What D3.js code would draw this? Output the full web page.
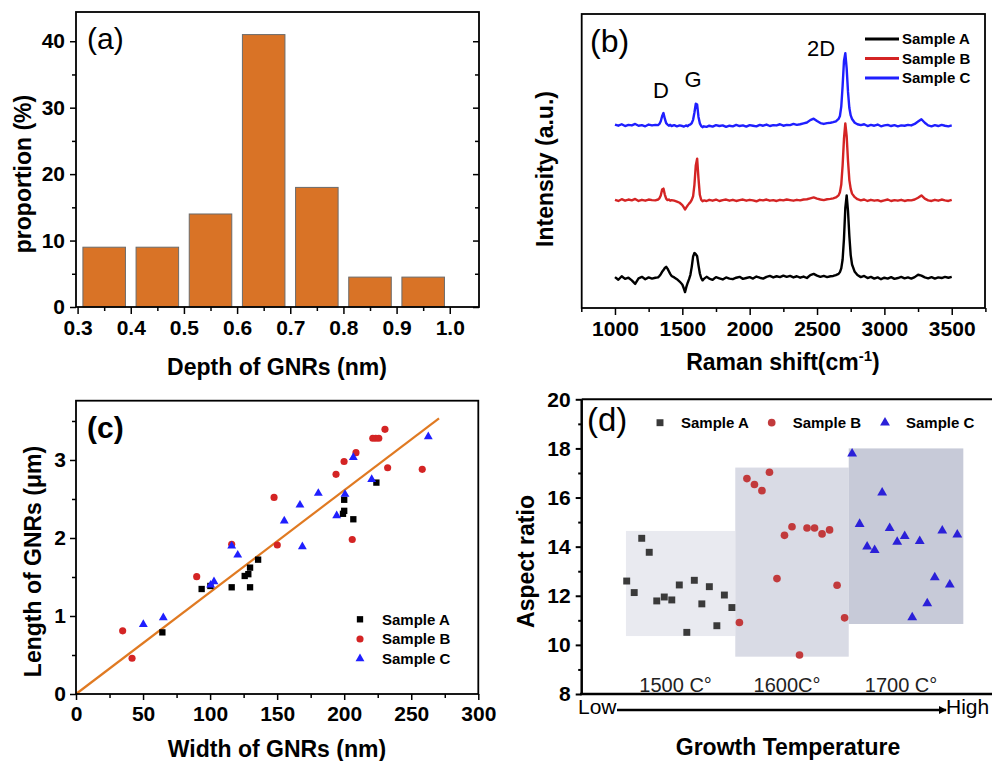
<!DOCTYPE html>
<html>
<head>
<meta charset="utf-8">
<title>GNRs characterisation</title>
<script src="https://d3js.org/d3.v7.min.js"></script>
<style>
  body { margin: 0; background: #fff; }
  text { font-family: Arial, "Liberation Sans", sans-serif; }
</style>
</head>
<body>
<script>
// ---- (a) depth histogram ----
const depthCenters = [0.35, 0.45, 0.55, 0.65, 0.75, 0.85, 0.95];
const depthProportion = [9, 9, 14, 41, 18, 4.5, 4.5];
const depthBinWidth = 0.08;
const depthTicks = [0.3, 0.4, 0.5, 0.6, 0.7, 0.8, 0.9, 1.0];
const proportionTicks = [0, 10, 20, 30, 40];

// ---- (b) Raman spectra (offset) ----
const ramanShift = [1000,1025,1050,1075,1100,1125,1150,1175,1200,1225,1250,1275,1300,
  1320,1330,1340,1350,1360,1370,1380,1390,1400,1410,1420,
  1440,1460,1480,1500,
  1510,1520,1530,1540,1550,1560,1570,1580,1590,1600,1610,1620,1630,1640,1650,1660,
  1680,1700,1725,1750,1775,1800,1825,1850,1875,1900,1925,1950,1975,2000,2025,2050,2075,2100,2125,2150,2175,2200,2225,2250,2275,2300,2325,2350,2375,2400,2425,2450,2475,2500,2525,2550,2575,2600,
  2620,2640,2660,2670,2680,2690,2700,2710,2720,2730,2740,2750,2760,2780,2800,
  2825,2850,2875,2900,2925,2950,2975,3000,3025,3050,3075,3100,3125,3150,3175,3200,3225,3250,3275,3300,3325,3350,3375,3400,3425,3450,3475,3500];
const intensityA = [10.5,9.6,10.8,9.9,10.3,9.4,8.2,10.1,10.6,9.8,10.4,10.0,10.3,
  10.4,10.9,11.5,12.3,12.9,13.6,14.0,13.4,12.5,11.6,10.9,
  10.4,9.8,9.0,8.0,
  6.8,5.4,7.2,8.6,9.8,11.3,14.0,17.5,18.7,18.3,17.6,14.5,11.8,10.2,9.4,9.9,
  10.6,10.0,9.6,10.5,10.1,9.7,10.4,10.0,9.8,10.3,10.6,9.9,10.2,10.5,10.0,10.7,10.3,10.0,10.6,10.9,10.4,10.8,10.5,11.0,10.6,10.9,10.4,10.8,10.3,10.7,10.2,11.2,11.6,11.0,10.6,10.9,10.5,10.8,
  10.9,11.2,11.6,12.2,13.5,16.5,23.5,34.0,38.3,33.0,24.5,18.0,14.8,12.3,11.2,
  10.5,10.9,10.2,10.6,10.0,10.4,9.8,10.3,10.0,10.5,9.9,10.2,10.6,10.1,10.4,10.0,10.5,11.3,11.0,10.4,10.1,10.5,10.0,10.4,10.2,10.6,10.3,10.6];
const intensityB = [36.8,36.4,37.0,36.5,36.9,36.6,37.1,36.4,36.8,36.5,36.9,36.7,36.6,
  36.9,37.3,38.3,40.3,40.6,38.6,37.2,36.7,36.9,36.5,36.7,
  36.5,36.2,35.8,35.0,
  34.3,33.5,34.2,34.9,35.5,36.0,36.8,38.0,42.0,48.5,50.8,44.0,38.5,36.8,36.3,36.6,
  36.4,36.8,36.5,36.9,36.4,36.7,36.9,36.5,36.8,36.4,36.7,36.9,36.5,36.8,36.6,36.3,36.8,36.6,36.9,36.5,36.7,36.4,36.8,36.6,36.9,36.7,36.5,36.8,36.6,36.9,37.0,37.3,37.6,37.2,36.9,36.7,37.0,37.1,
  37.3,37.6,38.3,39.4,42.0,48.5,57.5,62.8,58.5,50.0,43.5,40.5,38.9,37.7,37.0,
  36.6,36.9,36.4,36.8,36.5,36.7,36.3,36.6,36.9,36.4,36.7,36.5,36.8,36.4,36.7,36.6,36.9,37.5,38.3,37.2,36.6,36.4,36.8,36.5,36.9,36.6,36.4,36.8];
const intensityC = [62.4,62.0,62.5,61.9,62.3,62.1,62.6,62.0,62.2,61.8,62.4,62.1,62.3,
  62.2,62.6,63.5,65.2,66.3,64.4,62.9,62.4,62.0,62.3,61.9,
  62.2,61.8,62.1,61.9,
  61.7,61.9,62.1,61.8,62.3,62.4,62.9,64.0,66.5,69.5,69.2,65.0,62.8,61.9,61.5,61.8,
  61.6,62.0,61.7,62.2,61.9,62.1,61.6,62.0,61.8,62.3,61.9,62.1,61.7,62.2,62.0,61.8,62.3,62.0,62.4,61.9,62.2,62.1,62.5,62.0,62.3,62.2,62.6,62.3,62.5,62.8,63.1,63.9,64.4,63.6,62.9,62.6,62.9,63.0,
  63.2,63.5,64.3,65.3,68.5,75.5,84.0,86.7,81.5,73.5,68.0,65.5,64.3,63.0,62.5,
  62.2,62.5,61.9,62.3,62.0,62.4,61.8,62.1,62.3,61.9,62.2,61.8,62.1,62.0,62.3,62.1,62.6,63.4,64.2,63.0,62.1,61.8,62.2,61.9,62.3,62.0,61.8,62.1];
const ramanTicks = [1000, 1500, 2000, 2500, 3000, 3500];
const ramanMinor = [750, 1250, 1750, 2250, 2750, 3250, 3750];
const sampleNames = ["Sample A", "Sample B", "Sample C"];
const bandLabels = ["D", "G", "2D"];
const bandShift = [1341, 1580, 2530];
const bandHeight = [71.5, 75.1, 85.7];

// ---- (c) length vs width ----
const widthA = [64.4, 93.7, 100.2, 116.1, 125.8, 128.5, 129.8, 129.8, 135.8, 199.1, 200, 200, 206.8, 224];
const lengthA = [0.79, 1.346, 1.385, 1.368, 1.513, 1.536, 1.62, 1.368, 1.722, 2.31, 2.348, 2.49, 2.24, 2.71];
const widthB = [34.8, 41.8, 90, 116.1, 147.7, 150.1, 193.9, 199.9, 206, 208.8, 221.3, 223.5, 225.8, 230.4, 232.4, 258.2];
const lengthB = [0.81, 0.458, 1.504, 1.919, 2.52, 1.91, 2.816, 2.98, 1.98, 3.094, 3.278, 3.278, 3.278, 3.393, 2.9, 2.88];
const widthC = [50.2, 65.1, 100.4, 102.9, 116.1, 120.6, 155.3, 167, 168.8, 180.7, 194.4, 200.6, 206.8, 220.5, 262.7];
const lengthC = [0.893, 0.978, 1.397, 1.44, 1.897, 1.782, 2.218, 2.423, 1.889, 2.573, 2.286, 2.56, 3.034, 2.752, 3.299];
const fitWidth = [0, 270.7];
const fitLength = [0, 3.535];
const widthTicks = [0, 50, 100, 150, 200, 250, 300];
const widthMinor = [25, 75, 125, 175, 225, 275];
const lengthTicks = [0, 1, 2, 3];
const lengthMinor = [0.5, 1.5, 2.5, 3.5];

// ---- (d) aspect ratio vs growth temperature ----
const aspectA = [12.6, 12.13, 14.34, 13.77, 11.79, 11.95, 11.83, 12.44, 10.51, 12.63, 11.67, 12.37, 10.78, 12.03, 11.52];
const aspectB = [10.91, 16.77, 16.53, 16.28, 17.03, 12.7, 14.46, 14.81, 9.59, 14.76, 14.76, 14.52, 14.68, 12.43, 11.1];
const aspectC = [17.79, 14.92, 14.0, 13.86, 16.2, 14.75, 14.19, 14.43, 11.12, 14.22, 11.69, 12.75, 14.65, 12.45, 14.49];
const tempLabels = ["1500 C°", "1600C°", "1700 C°"];
const boxStart = [-0.1, 14.45, 29.55];
const boxEnd = [14.45, 29.55, 44.8];
const boxLow = [10.36, 9.52, 10.85];
const boxHigh = [14.64, 17.22, 18.0];
const aspectTicks = [8, 10, 12, 14, 16, 18, 20];
const aspectMinor = [9, 11, 13, 15, 17, 19];

const svg = d3.select("body").append("svg")
  .attr("width", 992).attr("height", 761)
  .style("background", "#fff");

const intFmt = d3.format("d");

function styleAxis(g, fontSize, sw) {
  g.select(".domain").remove();
  g.selectAll(".tick line").attr("stroke", "#000").attr("stroke-width", sw || 1.5);
  g.selectAll(".tick text")
    .attr("fill", "#000")
    .style("font-size", fontSize + "px")
    .style("font-weight", "bold");
  return g;
}

function title(x, y, txt, rotate) {
  const t = svg.append("text")
    .attr("text-anchor", "middle")
    .style("font-size", "23px")
    .style("font-weight", "bold")
    .text(txt);
  if (rotate) t.attr("transform", `translate(${x},${y}) rotate(-90)`);
  else t.attr("x", x).attr("y", y);
  return t;
}

const sampleColors = ["#000000", "#d42424", "#1f1fff"];

// ================= (a) =================
const xA = d3.scaleLinear().domain([0.297, 1.055]).range([76, 479]);
const yA = d3.scaleLinear().domain([0, 44.4]).range([307, 12]);

svg.append("g").selectAll("rect")
  .data(depthProportion)
  .join("rect")
  .attr("x", (d, i) => xA(depthCenters[i] - depthBinWidth / 2))
  .attr("width", (d, i) => xA(depthCenters[i] + depthBinWidth / 2) - xA(depthCenters[i] - depthBinWidth / 2))
  .attr("y", d => yA(d))
  .attr("height", d => yA(0) - yA(d))
  .attr("fill", "#d97326")
  .attr("stroke", "#6b6b6b")
  .attr("stroke-width", 1);

styleAxis(svg.append("g").attr("transform", "translate(0,307)")
  .call(d3.axisBottom(xA).tickValues(depthTicks).tickSize(7).tickPadding(6).tickFormat(d3.format(".1f"))), 21);
styleAxis(svg.append("g").attr("transform", "translate(0,307)")
  .call(d3.axisBottom(xA).tickValues(depthTicks.slice(0, -1).map(d => d + 0.05)).tickSize(4).tickFormat("")), 21);
styleAxis(svg.append("g").attr("transform", "translate(76,0)")
  .call(d3.axisLeft(yA).tickValues(proportionTicks).tickSize(6).tickPadding(5).tickFormat(intFmt)), 21);
styleAxis(svg.append("g").attr("transform", "translate(76,0)")
  .call(d3.axisLeft(yA).tickValues(proportionTicks.slice(0, -1).map(d => d + 5)).tickSize(4).tickFormat("")), 21);
styleAxis(svg.append("g").attr("transform", "translate(479,0)")
  .call(d3.axisLeft(yA).tickValues(proportionTicks).tickSize(6).tickFormat("")), 21);
styleAxis(svg.append("g").attr("transform", "translate(479,0)")
  .call(d3.axisLeft(yA).tickValues(proportionTicks.slice(0, -1).map(d => d + 5)).tickSize(4).tickFormat("")), 21);

svg.append("rect").attr("x", 76).attr("y", 12).attr("width", 403).attr("height", 295)
  .attr("fill", "none").attr("stroke", "#000").attr("stroke-width", 1.8);
svg.append("text").attr("x", 87).attr("y", 49).style("font-size", "30px").text("(a)");
title(31, 174, "proportion (%)", true);
title(277, 375, "Depth of GNRs (nm)");

// ================= (b) =================
const xB = d3.scaleLinear().domain([753, 3747]).range([581.7, 985]);
const yB = d3.scaleLinear().domain([0, 100]).range([308, 14]);

const ramanLine = d3.line()
  .defined((d, i) => ramanShift[i] !== undefined)
  .x((d, i) => xB(ramanShift[i]))
  .y(d => yB(d));

[intensityA, intensityB, intensityC].forEach((series, k) => {
  svg.append("path")
    .datum(series)
    .attr("d", ramanLine)
    .attr("fill", "none")
    .attr("stroke", sampleColors[k])
    .attr("stroke-width", 2.4)
    .attr("stroke-linejoin", "round");
});

styleAxis(svg.append("g").attr("transform", "translate(0,308)")
  .call(d3.axisBottom(xB).tickValues(ramanTicks).tickSize(7).tickPadding(6).tickFormat(intFmt)), 21);
styleAxis(svg.append("g").attr("transform", "translate(0,308)")
  .call(d3.axisBottom(xB).tickValues(ramanMinor).tickSize(4).tickFormat("")), 21);

svg.append("rect").attr("x", 581.7).attr("y", 14).attr("width", 403.3).attr("height", 294)
  .attr("fill", "none").attr("stroke", "#000").attr("stroke-width", 1.8);

bandLabels.forEach((lab, i) => {
  svg.append("text")
    .attr("x", xB(bandShift[i]))
    .attr("y", yB(bandHeight[i]))
    .attr("text-anchor", "middle")
    .style("font-size", "22px")
    .text(lab);
});

sampleNames.forEach((name, i) => {
  const y = 39 + i * 19.5;
  svg.append("line").attr("x1", 865).attr("x2", 899).attr("y1", y).attr("y2", y)
    .attr("stroke", sampleColors[i]).attr("stroke-width", 3);
  svg.append("text").attr("x", 902).attr("y", y).attr("dy", "0.35em")
    .style("font-size", "15px").style("font-weight", "bold").text(name);
});

svg.append("text").attr("x", 590).attr("y", 52).style("font-size", "32px").text("(b)");
title(553, 169, "Intensity (a.u.)", true);
const rt = title(783, 370, "Raman shift(cm");
rt.append("tspan").attr("dy", -9).style("font-size", "15px").text("-1");
rt.append("tspan").attr("dy", 9).text(")");

// ================= (c) =================
const xC = d3.scaleLinear().domain([0, 300]).range([76, 478.3]);
const yC = d3.scaleLinear().domain([0, 3.76]).range([694, 400.7]);

svg.append("line")
  .attr("x1", xC(fitWidth[0])).attr("y1", yC(fitLength[0]))
  .attr("x2", xC(fitWidth[1])).attr("y2", yC(fitLength[1]))
  .attr("stroke", "#e07a22").attr("stroke-width", 2.2);

const symC = [
  d3.symbol().type(d3.symbolSquare).size(40),
  d3.symbol().type(d3.symbolCircle).size(40),
  d3.symbol().type(d3.symbolTriangle).size(34)
];
const setsC = [[widthA, lengthA], [widthB, lengthB], [widthC, lengthC]];
setsC.forEach(([w, l], k) => {
  svg.append("g").selectAll("path")
    .data(w)
    .join("path")
    .attr("d", symC[k])
    .attr("transform", (d, i) => `translate(${xC(d)},${yC(l[i])})`)
    .attr("fill", sampleColors[k]);
});

styleAxis(svg.append("g").attr("transform", "translate(0,694)")
  .call(d3.axisBottom(xC).tickValues(widthTicks).tickSize(6).tickPadding(6).tickFormat(intFmt)), 21);
styleAxis(svg.append("g").attr("transform", "translate(0,694)")
  .call(d3.axisBottom(xC).tickValues(widthMinor).tickSize(4).tickFormat("")), 21);
styleAxis(svg.append("g").attr("transform", "translate(76,0)")
  .call(d3.axisLeft(yC).tickValues(lengthTicks).tickSize(6).tickPadding(4).tickFormat(intFmt)), 21);
styleAxis(svg.append("g").attr("transform", "translate(76,0)")
  .call(d3.axisLeft(yC).tickValues(lengthMinor).tickSize(4).tickFormat("")), 21);

svg.append("rect").attr("x", 76).attr("y", 400.7).attr("width", 402.3).attr("height", 293.3)
  .attr("fill", "none").attr("stroke", "#000").attr("stroke-width", 1.8);

sampleNames.forEach((name, i) => {
  const y = 619.3 + i * 19.7;
  svg.append("path").attr("d", symC[i]).attr("transform", `translate(360,${y})`).attr("fill", sampleColors[i]);
  svg.append("text").attr("x", 382).attr("y", y).attr("dy", "0.35em")
    .style("font-size", "15px").style("font-weight", "bold").text(name);
});

svg.append("text").attr("x", 87).attr("y", 438).style("font-size", "30px").style("font-weight", "bold").text("(c)");
title(41, 561.5, "Length of GNRs (\u03bcm)", true);
title(277, 757, "Width of GNRs (nm)");

// ================= (d) =================
const xD = d3.scaleLinear().domain([0, 44]).range([626.7, 957.3]);
const yD = d3.scaleLinear().domain([8, 20]).range([694, 399.3]);
const boxColors = ["#e9eaf0", "#d9dbe5", "#c7cad8"];

tempLabels.forEach((lab, i) => {
  svg.append("rect")
    .attr("x", xD(boxStart[i]))
    .attr("width", xD(boxEnd[i]) - xD(boxStart[i]))
    .attr("y", yD(boxHigh[i]))
    .attr("height", yD(boxLow[i]) - yD(boxHigh[i]))
    .attr("fill", boxColors[i]);
  svg.append("text")
    .attr("x", xD((boxStart[i] + boxEnd[i]) / 2) - 5)
    .attr("y", 692)
    .attr("text-anchor", "middle")
    .style("font-size", "20px")
    .attr("fill", "#222")
    .text(lab);
});

const dColors = ["#3a3a3a", "#c23a3c", "#2b20d8"];
const symD = [
  d3.symbol().type(d3.symbolSquare).size(48),
  d3.symbol().type(d3.symbolCircle).size(46),
  d3.symbol().type(d3.symbolTriangle).size(42)
];
[aspectA, aspectB, aspectC].forEach((vals, k) => {
  svg.append("g").selectAll("path")
    .data(vals)
    .join("path")
    .attr("d", symD[k])
    .attr("transform", (d, i) => `translate(${xD(k * 15 + i)},${yD(d)})`)
    .attr("fill", dColors[k]);
});

styleAxis(svg.append("g").attr("transform", "translate(581.7,0)")
  .call(d3.axisLeft(yD).tickValues(aspectTicks).tickSize(6).tickPadding(5).tickFormat(intFmt)), 21, 2);
styleAxis(svg.append("g").attr("transform", "translate(581.7,0)")
  .call(d3.axisLeft(yD).tickValues(aspectMinor).tickSize(3.5).tickFormat("")), 21, 2);

svg.append("line").attr("x1", 581.7).attr("x2", 581.7).attr("y1", 399.3).attr("y2", 695)
  .attr("stroke", "#000").attr("stroke-width", 2.5);
svg.append("line").attr("x1", 580).attr("x2", 992).attr("y1", 694).attr("y2", 694)
  .attr("stroke", "#000").attr("stroke-width", 2.5);
svg.append("line").attr("x1", 581.7).attr("x2", 992).attr("y1", 399.3).attr("y2", 399.3)
  .attr("stroke", "#000").attr("stroke-width", 2);

const legX = [660, 771.7, 885];
sampleNames.forEach((name, i) => {
  svg.append("path").attr("d", symD[i]).attr("transform", `translate(${legX[i]},422.7)`).attr("fill", dColors[i]);
  svg.append("text").attr("x", legX[i] + 21).attr("y", 422.7).attr("dy", "0.35em")
    .style("font-size", "15px").style("font-weight", "bold").text(name);
});

svg.append("defs").append("marker")
  .attr("id", "arrow").attr("viewBox", "0 0 10 10")
  .attr("refX", 9).attr("refY", 5)
  .attr("markerWidth", 3.2).attr("markerHeight", 3.2)
  .attr("orient", "auto")
  .append("path").attr("d", "M0,0L10,5L0,10Z").attr("fill", "#000");

svg.append("line").attr("x1", 617).attr("x2", 946).attr("y1", 710).attr("y2", 710)
  .attr("stroke", "#000").attr("stroke-width", 2.5).attr("marker-end", "url(#arrow)");
svg.append("text").attr("x", 578).attr("y", 714).style("font-size", "21px").text("Low");
svg.append("text").attr("x", 946).attr("y", 714).style("font-size", "21px").text("High");

svg.append("text").attr("x", 587).attr("y", 431).style("font-size", "33px").text("(d)");
title(534, 561.5, "Aspect ratio", true);
title(788, 755, "Growth Temperature");
</script>
</body>
</html>
